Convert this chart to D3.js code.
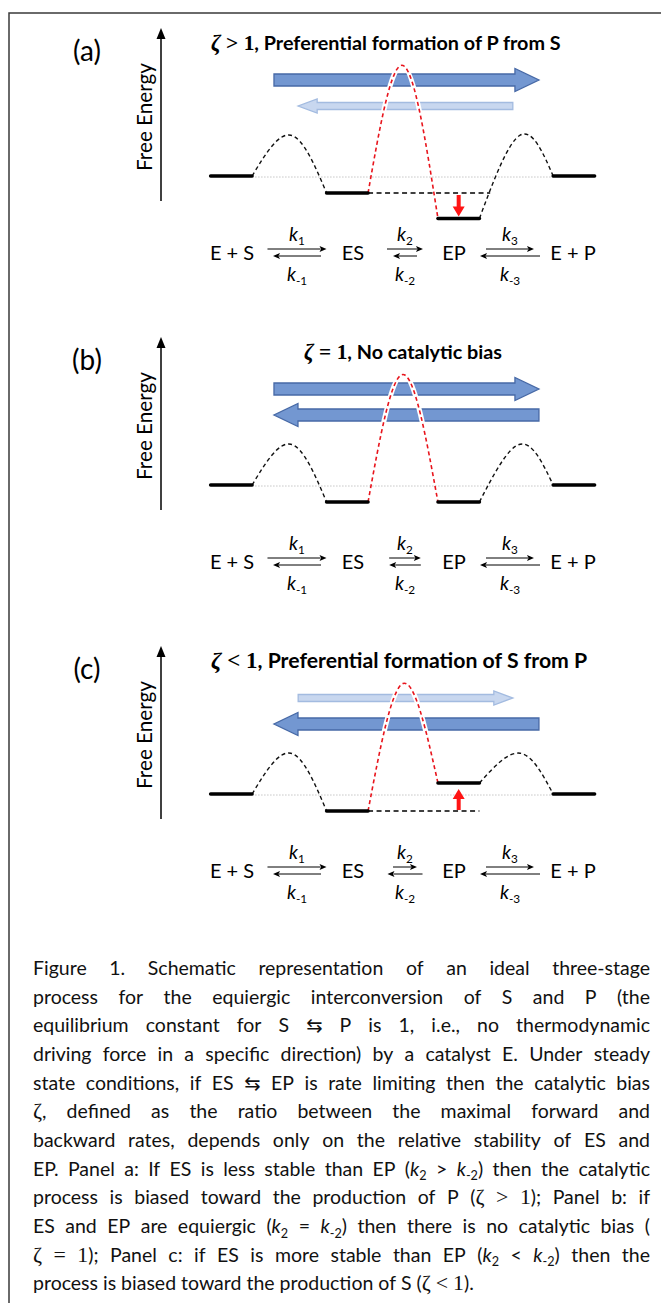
<!DOCTYPE html>
<html lang="en">
<head>
<meta charset="UTF-8">
<title>Figure 1</title>
<style>
  body { margin: 0; background: #fff; }
  svg { display: block; }
</style>
</head>
<body>
<svg id="fig" width="661" height="1303"></svg>
<script src="https://cdn.jsdelivr.net/npm/d3@7/dist/d3.min.js"></script>
<script>
// ---------- data ----------
const panelLabels = ["(a)", "(b)", "(c)"];
const titleRel = [">", "=", "<"];
const titleRest = [", Preferential formation of P from S", ", No catalytic bias", ", Preferential formation of S from P"];
const stateNames = ["E + S", "ES", "EP", "E + P"];

// reaction coordinate of the four states and the three barriers
const stateCoord = [0.53, 3.55, 6.45, 9.45];
const barrierCoord = [2.08, 5.0, 8.05];

// free energies relative to E + S (one value per panel)
const energyES = [-1, -1, -1];
const energyEP = [-2.5, -1, 0.65];
const energyBarrier = [2.4, 6.5, 2.4];

// relative fluxes drawn as block arrows
const fluxForward = [1, 1, 0.4];
const fluxBackward = [0.4, 1, 1];

// rate constants (length of the equilibrium arrows)
const rateK1 = 1.23, rateKm1 = 1.0, rateK3 = 1.0, rateKm3 = 1.25;
const rateK2 = [0.75, 0.66, 0.5];
const rateKm2 = [0.5, 0.66, 0.73];

const captionLines = [
  "Figure 1. Schematic representation of an ideal three-stage",
  "process for the equiergic interconversion of S and P (the",
  "equilibrium constant for S \u21C6 P is 1, i.e., no thermodynamic",
  "driving force in a specific direction) by a catalyst E. Under steady",
  "state conditions, if ES \u21C6 EP is rate limiting then the catalytic bias",
  "[m]\u03B6[/m], defined as the ratio between the maximal forward and",
  "backward rates, depends only on the relative stability of ES and",
  "EP. Panel a: If ES is less stable than EP ([i]k[/i][s]2[/s] > [i]k[/i][s]-2[/s]) then the catalytic",
  "process is biased toward the production of P ([m]\u03B6 > 1[/m]); Panel b: if",
  "ES and EP are equiergic ([i]k[/i][s]2[/s] = [i]k[/i][s]-2[/s]) then there is no catalytic bias (",
  "[m]\u03B6 = 1[/m]); Panel c: if ES is more stable than EP ([i]k[/i][s]2[/s] < [i]k[/i][s]-2[/s]) then the",
  "process is biased toward the production of S ([m]\u03B6 < 1[/m])."
];

// ---------- setup ----------
const SANS = "Lato, 'DejaVu Sans', sans-serif";
const SERIF = "'Liberation Serif', 'DejaVu Serif', serif";
const svg = d3.select("#fig");

svg.append("path")
  .attr("d", "M9,1303V13H661")
  .attr("fill", "none").attr("stroke", "#3a3a3a").attr("stroke-width", 1.5);

const x = d3.scaleLinear().domain([0, 10]).range([211, 595]);
const y = d3.scaleLinear().domain([0, -1]).range([176, 193]);
const kLen = d3.scaleLinear().domain([0, 1]).range([0, 48]);
const HALF = 0.54;                 // half width of a level, reaction-coordinate units
const panelTop = [0, 309, 618];
const titleWidth = [350, null, 376];

function fit(sel, target) {
  const fs = +sel.attr("font-size");
  const w = sel.node().getComputedTextLength();
  sel.attr("font-size", fs * target / w);
}

function blockArrow(g, x0, x1, yc, dir, strong) {
  const sh = strong ? 12 : 7, hh = strong ? 23 : 14, hl = strong ? 24 : 19;
  const p = d3.path();
  if (dir > 0) {
    const xb = x1 - hl;
    p.moveTo(x0, yc - sh / 2); p.lineTo(xb, yc - sh / 2); p.lineTo(xb, yc - hh / 2);
    p.lineTo(x1, yc); p.lineTo(xb, yc + hh / 2); p.lineTo(xb, yc + sh / 2); p.lineTo(x0, yc + sh / 2);
  } else {
    const xb = x0 + hl;
    p.moveTo(x1, yc - sh / 2); p.lineTo(xb, yc - sh / 2); p.lineTo(xb, yc - hh / 2);
    p.lineTo(x0, yc); p.lineTo(xb, yc + hh / 2); p.lineTo(xb, yc + sh / 2); p.lineTo(x1, yc + sh / 2);
  }
  p.closePath();
  g.append("path").attr("d", p.toString())
    .attr("fill", strong ? "#7397d1" : "#c8d7ef")
    .attr("stroke", strong ? "#4769a6" : "#a3bbe0")
    .attr("stroke-width", 1.3);
}

function thinArrow(g, xa, xb, yy, dir) {
  const hl = 7, hw = 3;
  if (dir > 0) {
    g.append("line").attr("x1", xa).attr("x2", xb - hl + 1).attr("y1", yy).attr("y2", yy)
      .attr("stroke", "#000").attr("stroke-width", 1);
    g.append("path").attr("d", `M${xb},${yy}L${xb - hl},${yy - hw}L${xb - hl + 1.5},${yy}L${xb - hl},${yy + hw}Z`);
  } else {
    g.append("line").attr("x1", xa + hl - 1).attr("x2", xb).attr("y1", yy).attr("y2", yy)
      .attr("stroke", "#000").attr("stroke-width", 1);
    g.append("path").attr("d", `M${xa},${yy}L${xa + hl},${yy - hw}L${xa + hl - 1.5},${yy}L${xa + hl},${yy + hw}Z`);
  }
}

function kLabel(g, cx, yb, sub) {
  const t = g.append("text").attr("x", cx).attr("y", yb).attr("text-anchor", "middle")
    .attr("font-family", SANS).attr("font-size", 19);
  t.append("tspan").attr("font-style", "italic").text("k");
  t.append("tspan").attr("font-size", "0.62em").attr("dy", 4).text(sub);
}

const hump = d3.line().x(d => x(d[0])).y(d => y(d[1])).curve(d3.curveNatural);

let titleSize = 18;

panelLabels.forEach((lab, p) => {
  const g = svg.append("g").attr("transform", `translate(0,${panelTop[p]})`);

  g.append("text").attr("x", 87).attr("y", 61).attr("text-anchor", "middle")
    .attr("font-family", SANS).attr("font-size", 28).text(lab);

  // energy axis
  g.append("line").attr("x1", 161).attr("x2", 161).attr("y1", 201).attr("y2", 36)
    .attr("stroke", "#000").attr("stroke-width", 1.5);
  g.append("path").attr("d", "M161,28L156.5,39L165.5,39Z");
  const fe = g.append("text").attr("transform", "translate(145,117) rotate(-90)")
    .attr("text-anchor", "middle").attr("dy", "0.35em")
    .attr("font-family", SANS).attr("font-size", 19).text("Free Energy");
  fit(fe, 108);

  // title
  const t = g.append("text").attr("y", 50).attr("font-family", SANS)
    .attr("font-weight", "bold").attr("font-size", titleSize);
  t.append("tspan").attr("font-family", SERIF).attr("font-style", "italic").attr("font-size", "1.12em").text("\u03B6");
  t.append("tspan").attr("font-family", SERIF).attr("font-size", "1.08em").text(` ${titleRel[p]} 1`);
  t.append("tspan").text(titleRest[p]);
  if (titleWidth[p]) { fit(t, titleWidth[p]); titleSize = +t.attr("font-size"); }
  if (p === 1) t.attr("x", 403).attr("text-anchor", "middle"); else t.attr("x", 211);

  // block arrows (fluxes)
  blockArrow(g, x(fluxForward[p] > 0.7 ? 1.64 : 2.27), x(fluxForward[p] > 0.7 ? 8.54 : 7.86), 80, 1, fluxForward[p] > 0.7);
  blockArrow(g, x(fluxBackward[p] > 0.7 ? 1.64 : 2.27), x(fluxBackward[p] > 0.7 ? 8.54 : 7.86), 106, -1, fluxBackward[p] > 0.7);

  const levels = [0, energyES[p], energyEP[p], 0];
  const red = [[stateCoord[1] + HALF, levels[1]], [barrierCoord[1], energyBarrier[1]], [stateCoord[2] - HALF, levels[2]]];

  g.append("path").attr("d", hump(red)).attr("fill", "none")
    .attr("stroke", "#fff").attr("stroke-width", 5);

  g.append("line").attr("x1", x(stateCoord[0] + HALF)).attr("x2", x(stateCoord[3] - HALF))
    .attr("y1", y(0) + 1).attr("y2", y(0) + 1)
    .attr("stroke", "#b8b8b8").attr("stroke-width", 0.8).attr("stroke-dasharray", "1.5,1.5");

  if (levels[2] !== levels[1]) {
    g.append("line").attr("x1", x(stateCoord[1] + HALF)).attr("x2", x(stateCoord[2] + HALF + (levels[2] < levels[1] ? 0.28 : 0)))
      .attr("y1", y(levels[1])).attr("y2", y(levels[1]))
      .attr("stroke", "#000").attr("stroke-width", 1.4).attr("stroke-dasharray", "5,3.5");
  }

  const black1 = [[stateCoord[0] + HALF, levels[0]], [barrierCoord[0], energyBarrier[0]], [stateCoord[1] - HALF, levels[1]]];
  const black3 = [[stateCoord[2] + HALF, levels[2]], [barrierCoord[2], energyBarrier[2]], [stateCoord[3] - HALF, levels[3]]];
  [black1, black3].forEach(pts => {
    g.append("path").attr("d", hump(pts)).attr("fill", "none")
      .attr("stroke", "#111").attr("stroke-width", 1.4).attr("stroke-dasharray", "4,3");
  });
  g.append("path").attr("d", hump(red)).attr("fill", "none")
    .attr("stroke", "#e8141c").attr("stroke-width", 1.6).attr("stroke-dasharray", "4,3");

  g.selectAll("line.level").data(levels).join("line").attr("class", "level")
    .attr("x1", (d, i) => x(stateCoord[i] - HALF)).attr("x2", (d, i) => x(stateCoord[i] + HALF))
    .attr("y1", d => y(d)).attr("y2", d => y(d))
    .attr("stroke", "#000").attr("stroke-width", 3.5).attr("stroke-linecap", "round");

  // red arrow showing the change of EP stability
  if (levels[2] !== levels[1]) {
    const ax = x(stateCoord[2]);
    const down = levels[2] < levels[1];
    const y0 = y(levels[1]) + (down ? 2 : -1);
    const y1 = y(levels[2]) + (down ? -2 : 6);
    const s = down ? 1 : -1;
    const hb = y1 - s * 10;
    g.append("path")
      .attr("d", `M${ax - 2},${y0}L${ax - 2},${hb}L${ax - 6},${hb}L${ax},${y1}L${ax + 6},${hb}L${ax + 2},${hb}L${ax + 2},${y0}Z`)
      .attr("fill", "#ff1414");
  }

  // kinetic scheme
  const schemeX = [232, 353, 454, 573];
  g.selectAll("text.sp").data(stateNames).join("text").attr("class", "sp")
    .attr("x", (d, i) => schemeX[i]).attr("y", 260).attr("text-anchor", "middle")
    .attr("font-family", SANS).attr("font-size", 20).text(d => d);

  const pairs = [
    { cx: 297, f: rateK1, b: rateKm1, up: "1", lo: "-1" },
    { cx: 405, f: rateK2[p], b: rateKm2[p], up: "2", lo: "-2" },
    { cx: 510, f: rateK3, b: rateKm3, up: "3", lo: "-3" }
  ];
  pairs.forEach(pr => {
    thinArrow(g, pr.cx - kLen(pr.f) / 2, pr.cx + kLen(pr.f) / 2, 249, 1);
    thinArrow(g, pr.cx - kLen(pr.b) / 2, pr.cx + kLen(pr.b) / 2, 256, -1);
    kLabel(g, pr.cx, 241, pr.up);
    kLabel(g, pr.cx, 281, pr.lo);
  });
});

// ---------- caption ----------
function parseWords(line) {
  const words = [[]];
  const st = { i: false, s: false, m: false };
  const re = /\[(\/?)(i|s|m)\]|([^\[]+)/g;
  let m;
  while ((m = re.exec(line))) {
    if (m[2]) { st[m[2]] = m[1] !== "/"; continue; }
    m[3].split(" ").forEach((part, j) => {
      if (j > 0) words.push([]);
      if (part) words[words.length - 1].push({ t: part, i: st.i, s: st.s, m: st.m });
    });
  }
  return words.filter(w => w.length);
}

const capOuter = svg.append("g");
const capG = capOuter.append("g");
const CAP_L = 33, CAP_R = 650, CAP_Y0 = 975, CAP_DY = 28.65, CAP_FS = 19.5;

function drawWord(g, segs, xx, yy, fs) {
  const t = g.append("text").attr("x", xx).attr("y", yy).attr("font-family", SANS).attr("font-size", fs).attr("fill", "#111");
  let inSub = false;
  segs.forEach(sg => {
    const ts = t.append("tspan").text(sg.t);
    if (sg.i) ts.attr("font-style", "italic");
    if (sg.m) ts.attr("font-family", SERIF).attr("font-size", fs * 1.12);
    if (sg.s) ts.attr("font-size", fs * 0.65);
    if (sg.s && !inSub) ts.attr("dy", fs * 0.25);
    if (!sg.s && inSub) ts.attr("dy", -fs * 0.25);
    inSub = sg.s;
  });
  return t;
}

// lay out the words of each line; the font is condensed horizontally (sx) so the
// tightest line fills the column, then every line except the last is justified
const probe1 = capG.append("text").attr("font-family", SANS).attr("font-size", CAP_FS).text("a\u00A0a");
const probe2 = capG.append("text").attr("font-family", SANS).attr("font-size", CAP_FS).text("aa");
const spaceW = probe1.node().getComputedTextLength() - probe2.node().getComputedTextLength();
probe1.remove(); probe2.remove();

const lineData = captionLines.map((line, li) => {
  const yy = CAP_Y0 + li * CAP_DY;
  const els = parseWords(line).map(w => drawWord(capG, w, 0, yy, CAP_FS));
  const ws = els.map(e => e.node().getComputedTextLength());
  return { els, ws, sum: d3.sum(ws) };
});
const widest = d3.max(lineData.slice(0, -1), d => d.sum + spaceW * (d.ws.length - 1));
const sx = Math.min(1, (CAP_R - CAP_L) / widest * 0.997);
capOuter.attr("transform", `translate(${CAP_L},0) scale(${sx},1)`);
const W = (CAP_R - CAP_L) / sx;
lineData.forEach((d, li) => {
  const last = li === lineData.length - 1;
  const gap = last ? spaceW : (W - d.sum) / (d.ws.length - 1);
  let cx = 0;
  d.els.forEach((e, k) => { e.attr("x", cx); cx += d.ws[k] + gap; });
});
</script>
</body>
</html>
